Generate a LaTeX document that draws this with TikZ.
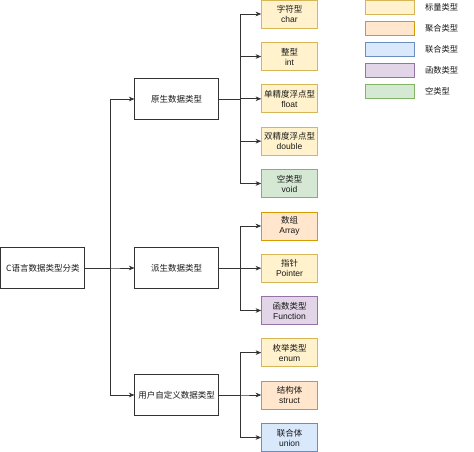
\documentclass[tikz,border=0pt]{standalone}
\usepackage{fontspec}
\setmainfont{Liberation Sans}
\newfontfamily\cjk{Noto Sans CJK SC}
\usetikzlibrary{arrows.meta}
\definecolor{scalF}{HTML}{FFF2CC}\definecolor{scalD}{HTML}{D6B656}
\definecolor{aggF}{HTML}{FFE6CC}\definecolor{aggD}{HTML}{D79B00}
\definecolor{uniF}{HTML}{DAE8FC}\definecolor{uniD}{HTML}{6C8EBF}
\definecolor{funF}{HTML}{E1D5E7}\definecolor{funD}{HTML}{9673A6}
\definecolor{voidF}{HTML}{D5E8D4}\definecolor{voidD}{HTML}{82B366}
\definecolor{lineC}{HTML}{333333}
\begin{document}
\begin{tikzpicture}[x=1pt,y=-1pt,
  every node/.style={inner sep=0pt,outer sep=0pt,font=\fontsize{8.5}{10}\selectfont,text=black!90,align=center},
  mainbox/.style={draw=lineC,line width=0.8pt,fill=white,minimum width=84pt,minimum height=41.5pt},
  leafbox/.style={draw=#1D,fill=#1F,line width=0.8pt,minimum width=56.5pt,minimum height=28pt},
  legbox/.style={draw=#1D,fill=#1F,line width=0.8pt,minimum width=49.5pt,minimum height=14pt},
  leglabel/.style={anchor=west,font=\cjk\fontsize{8.3}{10}\selectfont},
  conn/.style={draw=lineC,line width=0.8pt,-{Stealth[length=5.5pt,width=4.5pt,inset=1.5pt]}}]
\useasboundingbox (0,0) rectangle (474,452);
\fill[white] (0,0) rectangle (474,452);

% root and middle
\node[mainbox] (root) at (42.8,268) {{\cjk C语言数据类型分类}};
\node[mainbox] (prim) at (176.5,99) {{\cjk 原生数据类型}};
\node[mainbox] (deri) at (176.5,268) {{\cjk 派生数据类型}};
\node[mainbox] (user) at (176.5,395) {{\cjk 用户自定义数据类型}};

% leaves
\node[leafbox=scal] (char) at (289.5,14) {{\cjk 字符型}\\char};
\node[leafbox=scal] (int) at (289.5,56.5) {{\cjk 整型}\\int};
\node[leafbox=scal] (float) at (289.5,98.8) {{\cjk 单精度浮点型}\\float};
\node[leafbox=scal] (double) at (289.5,141.2) {{\cjk 双精度浮点型}\\double};
\node[leafbox=void] (void) at (289.5,183.5) {{\cjk 空类型}\\void};
\node[leafbox=agg] (array) at (289.5,226) {{\cjk 数组}\\Array};
\node[leafbox=scal] (ptr) at (289.5,268.2) {{\cjk 指针}\\Pointer};
\node[leafbox=fun] (func) at (289.5,310.5) {{\cjk 函数类型}\\Function};
\node[leafbox=scal] (enum) at (289.5,352.6) {{\cjk 枚举类型}\\enum};
\node[leafbox=agg] (struct) at (289.5,395) {{\cjk 结构体}\\struct};
\node[leafbox=uni] (union) at (289.5,437.5) {{\cjk 联合体}\\union};

% legend
\node[legbox=scal] (l1) at (390,7.4) {};
\node[legbox=agg] (l2) at (390,28.4) {};
\node[legbox=uni] (l3) at (390,49.5) {};
\node[legbox=fun] (l4) at (390,70.6) {};
\node[legbox=void] (l5) at (390,91.8) {};
\node[leglabel] (t1) at (425,7.4) {标量类型};
\node[leglabel] (t2) at (425,28.4) {聚合类型};
\node[leglabel] (t3) at (425,49.5) {联合类型};
\node[leglabel] (t4) at (425,70.6) {函数类型};
\node[leglabel] (t5) at (425,91.8) {空类型};

% connectors root -> middle
\coordinate (j0) at (110,268);
\foreach \t in {prim,deri,user}
  \draw[conn] (root.east) -- (j0) |- (\t.west);
% middle -> leaves
\coordinate (j1) at (240.7,99);
\foreach \t in {char,int,float,double,void}
  \draw[conn] (prim.east) -- (j1) |- (\t.west);
\coordinate (j2) at (240.7,268);
\foreach \t in {array,ptr,func}
  \draw[conn] (deri.east) -- (j2) |- (\t.west);
\coordinate (j3) at (240.7,395);
\foreach \t in {enum,struct,union}
  \draw[conn] (user.east) -- (j3) |- (\t.west);
\end{tikzpicture}
\end{document}
